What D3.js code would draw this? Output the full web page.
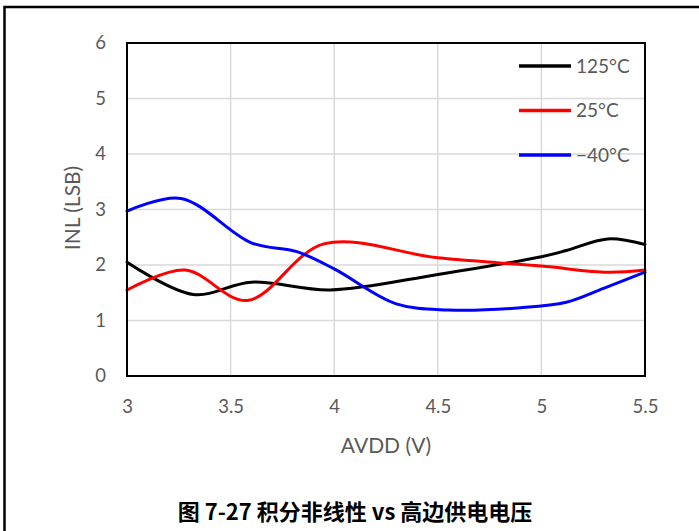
<!doctype html>
<html>
<head>
<meta charset="utf-8">
<title>INL vs AVDD</title>
<script src="https://d3js.org/d3.v7.min.js"></script>
<style>
  body { margin: 0; background: #fff; }
  svg { display: block; }
</style>
</head>
<body>
<svg width="699" height="531"></svg>
<script>
// series data
const seriesNames = ["125°C", "25°C", "\u221240°C"];
const seriesColors = ["#000000", "#ff0000", "#0000ff"];

const avdd125 = [3, 3.32, 3.6, 3.98, 4.5, 5.0, 5.12, 5.32, 5.5];
const inl125  = [2.05, 1.47, 1.69, 1.55, 1.83, 2.15, 2.26, 2.47, 2.37];

const avdd25 = [3, 3.28, 3.58, 3.95, 4.5, 5.0, 5.32, 5.5];
const inl25  = [1.55, 1.91, 1.36, 2.38, 2.13, 1.98, 1.87, 1.91];

const avddM40 = [3, 3.26, 3.6, 3.82, 4.0, 4.3, 4.55, 4.9, 5.12, 5.3, 5.5];
const inlM40  = [2.97, 3.2, 2.4, 2.24, 1.93, 1.3, 1.19, 1.23, 1.33, 1.58, 1.87];

const xTicks = [3, 3.5, 4, 4.5, 5, 5.5];
const yTicks = [0, 1, 2, 3, 4, 5, 6];

const xLabel = "AVDD (V)";
const yLabel = "INL (LSB)";
const caption = "图 7-27 积分非线性 vs 高边供电电压";

const series = [
  {name: seriesNames[0], color: seriesColors[0], xs: avdd125, ys: inl125},
  {name: seriesNames[1], color: seriesColors[1], xs: avdd25, ys: inl25},
  {name: seriesNames[2], color: seriesColors[2], xs: avddM40, ys: inlM40}
];

const svg = d3.select("svg");
const font = "Lato, 'Noto Sans', sans-serif";
const grey = "#595959";

// outer frame (only left and top are visible in the picture)
svg.append("rect")
  .attr("x", 4.5).attr("y", 7)
  .attr("width", 800).attr("height", 600)
  .attr("fill", "none").attr("stroke", "#000").attr("stroke-width", 2.5);

const plotLeft = 127, plotRight = 645, plotTop = 43, plotBottom = 376;

const x = d3.scaleLinear().domain([3, 5.5]).range([plotLeft, plotRight]);
const y = d3.scaleLinear().domain([0, 6]).range([plotBottom, plotTop]);

// gridlines
const grid = svg.append("g");
grid.selectAll(".gx").data(xTicks).enter().append("line")
  .attr("x1", d => x(d)).attr("x2", d => x(d))
  .attr("y1", plotTop).attr("y2", plotBottom)
  .attr("stroke", "#d9d9d9").attr("stroke-width", 1.5);
grid.selectAll(".gy").data(yTicks).enter().append("line")
  .attr("x1", plotLeft).attr("x2", plotRight)
  .attr("y1", d => y(d)).attr("y2", d => y(d))
  .attr("stroke", "#d9d9d9").attr("stroke-width", 1.5);

// axes (labels only, frame drawn as rect)
const xAxis = svg.append("g")
  .attr("transform", "translate(0," + plotBottom + ")")
  .call(d3.axisBottom(x).tickValues(xTicks).tickSize(0).tickPadding(24).tickFormat(d3.format("")));
const yAxis = svg.append("g")
  .attr("transform", "translate(" + plotLeft + ",0)")
  .call(d3.axisLeft(y).tickValues(yTicks).tickSize(0).tickPadding(21).tickFormat(d3.format("d")));
[xAxis, yAxis].forEach(a => {
  a.select(".domain").remove();
  a.selectAll("text").attr("fill", grey).attr("font-size", "18.5px").attr("font-family", font);
});

// lines
const line = d3.line()
  .x(d => x(d[0])).y(d => y(d[1]))
  .curve(d3.curveCatmullRom.alpha(0.5));

svg.append("g").selectAll("path").data(series).enter().append("path")
  .attr("d", s => line(s.xs.map((v, i) => [v, s.ys[i]])))
  .attr("fill", "none")
  .attr("stroke", s => s.color)
  .attr("stroke-width", 3)
  .attr("stroke-linecap", "round");

// plot frame
svg.append("rect")
  .attr("x", plotLeft).attr("y", plotTop)
  .attr("width", plotRight - plotLeft).attr("height", plotBottom - plotTop)
  .attr("fill", "none").attr("stroke", "#000").attr("stroke-width", 2);

// legend
const legend = svg.append("g").selectAll("g").data(series).enter().append("g")
  .attr("transform", (d, i) => "translate(519," + (66 + i * 44.5) + ")");
legend.append("line")
  .attr("x1", 0).attr("x2", 52)
  .attr("stroke", d => d.color).attr("stroke-width", 3.5);
legend.append("text")
  .attr("x", 57).attr("y", 6.5)
  .attr("fill", grey).attr("font-size", "19px").attr("font-family", font)
  .text(d => d.name);

// axis titles
svg.append("text")
  .attr("x", 386).attr("y", 453)
  .attr("text-anchor", "middle")
  .attr("fill", grey).attr("font-size", "21px").attr("font-family", font)
  .text(xLabel);
svg.append("text")
  .attr("transform", "translate(80,208) rotate(-90)")
  .attr("text-anchor", "middle")
  .attr("fill", grey).attr("font-size", "21px").attr("font-family", font)
  .text(yLabel);

// caption
svg.append("text")
  .attr("x", 355).attr("y", 520)
  .attr("text-anchor", "middle")
  .attr("fill", "#000").attr("font-size", "22px").attr("font-weight", "bold")
  .attr("font-family", "'Noto Sans CJK SC', sans-serif")
  .text(caption);
</script>
</body>
</html>
